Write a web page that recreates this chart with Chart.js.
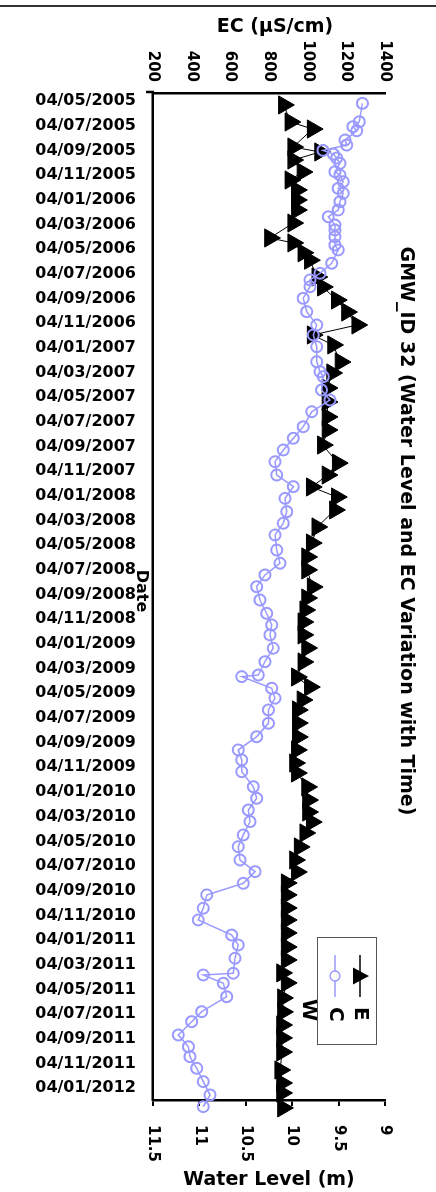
<!DOCTYPE html>
<html lang="en">
<head>
  <meta charset="UTF-8">
  <title>GMW_ID 32 (Water Level and EC Variation with Time)</title>
  <script src="https://cdn.jsdelivr.net/npm/chart.js"></script>
  <style>
    html, body {
      margin: 0;
      padding: 0;
      background: #fff;
      overflow: hidden;
    }
    body {
      width: 436px;
      height: 1192px;
      position: relative;
    }
    /* the chart is laid out landscape, then turned a quarter clockwise */
    #wrap {
      position: absolute;
      left: 0;
      top: 0;
      width: 1192px;
      height: 436px;
      transform-origin: 0 0;
      transform: translate(436px, 0) rotate(90deg);
    }
  </style>
</head>
<body>
  <div id="wrap"><canvas id="chart" width="1192" height="436"></canvas></div>

  <script>
    const chartTitle = "GMW_ID 32 (Water Level and EC Variation with Time)";

    // tick labels on the date axis, one every 2 months from 04/05/2005
    const dateTicks = [
      "04/05/2005", "04/07/2005", "04/09/2005", "04/11/2005",
      "04/01/2006", "04/03/2006", "04/05/2006", "04/07/2006", "04/09/2006", "04/11/2006",
      "04/01/2007", "04/03/2007", "04/05/2007", "04/07/2007", "04/09/2007", "04/11/2007",
      "04/01/2008", "04/03/2008", "04/05/2008", "04/07/2008", "04/09/2008", "04/11/2008",
      "04/01/2009", "04/03/2009", "04/05/2009", "04/07/2009", "04/09/2009", "04/11/2009",
      "04/01/2010", "04/03/2010", "04/05/2010", "04/07/2010", "04/09/2010", "04/11/2010",
      "04/01/2011", "04/03/2011", "04/05/2011", "04/07/2011", "04/09/2011", "04/11/2011",
      "04/01/2012"
    ];

    // EC readings: months after 04/05/2005 and value in µS/cm
    const ecMonth = [
      0.19, 1.68, 2.08, 2.41, 3.16, 3.57, 4.0, 4.3, 4.62, 5.05,
      5.73, 6.0, 6.54, 7.08, 7.48, 8.16, 8.83, 9.38, 10.05, 10.45,
      11.0, 11.67, 12.07, 13.15, 13.96, 14.5, 15.05, 15.99, 17.07, 18.15,
      18.96, 19.91, 21.13, 21.94, 22.34, 23.42, 24.23, 25.18, 26.4, 27.33,
      28.28, 29.23, 30.31, 31.25, 32.2, 33.28, 34.22, 35.17, 36.39, 37.46,
      38.41, 39.36, 40.44, 41.52, 42.46, 43.27, 44.35, 45.44, 46.52, 46.65,
      47.59, 48.4, 49.35, 50.43, 51.52, 52.59, 53.4, 54.35, 55.57, 56.51,
      57.46, 58.4, 59.48, 60.43, 61.51, 62.45, 63.4, 64.34, 65.42, 66.37,
      67.59, 68.4, 69.47, 70.69, 70.83, 71.5, 72.59, 73.8, 74.61, 75.69,
      76.64, 77.45, 78.39, 79.47, 80.55, 81.5
    ];
    const ecValue = [
      1283, 1267, 1234, 1254, 1193, 1202, 1079, 1133, 1150, 1167,
      1141, 1167, 1184, 1158, 1184, 1167, 1158, 1107, 1141, 1141,
      1141, 1141, 1158, 1124, 1064, 1012, 1012, 977, 995, 1047,
      1029, 1047, 1047, 1064, 1081, 1072, 1115, 1021, 977, 926,
      874, 831, 840, 926, 883, 892, 874, 831, 840, 857,
      779, 736, 753, 788, 814, 805, 822, 779, 745, 659,
      814, 831, 797, 797, 736, 641, 659, 659, 719, 736,
      693, 702, 667, 641, 650, 728, 667, 478, 460, 434,
      607, 641, 624, 615, 460, 564, 581, 452, 400, 331,
      383, 391, 426, 460, 495, 460
    ];

    // water level readings: months after 04/05/2005 and level in m
    const wlMonth = [
      0.32, 1.7, 2.27, 3.73, 4.13, 4.78, 5.75, 6.4, 7.21, 8.02,
      8.83, 9.89, 11.1, 11.5, 12.3, 12.9, 14.26, 15.07, 16.13, 17.1,
      18.15, 18.96, 19.77, 21.15, 22.04, 23.26, 24.39, 25.6, 26.66, 27.88,
      29.34, 30.31, 31.28, 32.09, 33.14, 34.52, 35.82, 36.95, 38.0, 39.38,
      40.28, 41.25, 42.22, 43.27, 44.33, 45.46, 46.68, 47.49, 48.54, 49.35,
      50.41, 51.54, 52.59, 53.65, 54.46, 55.59, 56.65, 57.62, 58.43, 59.32,
      60.45, 61.51, 62.48, 63.37, 64.34, 65.4, 66.37, 67.42, 68.56, 69.61,
      70.66, 71.47, 72.69, 73.82, 74.88, 75.93, 77.07, 78.53, 79.58, 80.39,
      81.6
    ];
    const wlValue = [
      10.09, 10.02, 9.78, 9.99, 9.70, 9.99, 9.89, 10.02, 9.95, 9.95,
      9.95, 9.99, 10.24, 9.99, 9.88, 9.81, 9.73, 9.67, 9.52, 9.41,
      9.30, 9.78, 9.56, 9.48, 9.57, 9.62, 9.62, 9.62, 9.62, 9.67,
      9.51, 9.62, 9.79, 9.52, 9.54, 9.73, 9.79, 9.84, 9.84, 9.78,
      9.84, 9.86, 9.88, 9.88, 9.84, 9.88, 9.95, 9.81, 9.89, 9.94,
      9.94, 9.94, 9.95, 9.97, 9.95, 9.84, 9.83, 9.83, 9.79, 9.86,
      9.92, 9.97, 9.95, 10.06, 10.06, 10.06, 10.06, 10.06, 10.06, 10.06,
      10.11, 10.06, 10.10, 10.10, 10.11, 10.11, 10.11, 10.13, 10.11, 10.11,
      10.10
    ];

    const FONT = '"DejaVu Sans"';
    const EC_COLOR = "#9999ff";

    Chart.defaults.font.family = FONT;
    Chart.defaults.color = "#000";

    function rotText(ctx, text, x, y) {
      ctx.save();
      ctx.translate(x, y);
      ctx.rotate(-Math.PI / 2);
      ctx.fillText(text, 0, 0);
      ctx.restore();
    }

    // titles, legend box and the odd bits Excel left on the picture
    const decor = {
      id: "decor",
      afterDraw(chart) {
        const ctx = chart.ctx;
        ctx.save();

        // frame line along the top of the picture
        ctx.strokeStyle = "#333";
        ctx.lineWidth = 2;
        ctx.beginPath();
        ctx.moveTo(6, 0);
        ctx.lineTo(6, 436);
        ctx.stroke();

        ctx.fillStyle = "#000";
        ctx.textAlign = "center";
        ctx.textBaseline = "middle";

        ctx.font = "bold 19px " + FONT;
        ctx.fillText(chartTitle, 531, 30);
        rotText(ctx, "EC (µS/cm)", 27, 161);
        rotText(ctx, "Water Level (m)", 1180, 167);

        ctx.font = "bold 16px " + FONT;
        ctx.fillText("Date", 591, 295);

        // stub of the EC axis line past the plot
        ctx.strokeStyle = "#000";
        ctx.lineWidth = 2.5;
        ctx.beginPath();
        ctx.moveTo(92, 282);
        ctx.lineTo(92, 290);
        ctx.stroke();

        // legend
        ctx.fillStyle = "#fff";
        ctx.fillRect(937, 59, 107, 59);
        ctx.strokeStyle = "#555";
        ctx.lineWidth = 1;
        ctx.strokeRect(937.5, 59.5, 107, 59);

        ctx.strokeStyle = "#000";
        ctx.lineWidth = 1.5;
        ctx.beginPath();
        ctx.moveTo(955, 76);
        ctx.lineTo(997, 76);
        ctx.stroke();
        ctx.fillStyle = "#000";
        ctx.beginPath();
        ctx.moveTo(976, 76 - 9);
        ctx.lineTo(976 + 8.5, 76 + 7);
        ctx.lineTo(976 - 8.5, 76 + 7);
        ctx.closePath();
        ctx.fill();

        ctx.strokeStyle = EC_COLOR;
        ctx.beginPath();
        ctx.moveTo(955, 101);
        ctx.lineTo(997, 101);
        ctx.stroke();
        ctx.fillStyle = "#fff";
        ctx.lineWidth = 1.5;
        ctx.beginPath();
        ctx.arc(976, 101, 5, 0, Math.PI * 2);
        ctx.fill();
        ctx.stroke();

        ctx.fillStyle = "#000";
        ctx.textAlign = "left";
        ctx.font = "bold 20px " + FONT;
        ctx.fillText("E", 1007, 76);
        ctx.fillText("C", 1007, 101);
        ctx.fillText("W", 999, 128);
        ctx.restore();
      }
    };

    new Chart(document.getElementById("chart"), {
      type: "line",
      data: {
        datasets: [
          {
            label: "EC",
            data: ecMonth.map((m, i) => ({ x: m, y: ecValue[i] })),
            yAxisID: "ec",
            borderColor: EC_COLOR,
            borderWidth: 1.5,
            pointStyle: "circle",
            pointRadius: 5.5,
            pointBorderColor: EC_COLOR,
            pointBorderWidth: 2,
            pointBackgroundColor: "rgba(0,0,0,0)",
            clip: false
          },
          {
            label: "Water Level",
            data: wlMonth.map((m, i) => ({ x: m, y: wlValue[i] })),
            yAxisID: "wl",
            borderColor: "#000",
            borderWidth: 1,
            pointStyle: "triangle",
            pointRadius: 10.5,
            pointBorderColor: "#000",
            pointBorderWidth: 1,
            pointBackgroundColor: "#000",
            clip: false
          }
        ]
      },
      options: {
        responsive: false,
        animation: false,
        events: [],
        layout: { padding: { top: 51, left: 0, right: 0, bottom: 0 } },
        plugins: {
          legend: { display: false },
          tooltip: { enabled: false },
          title: { display: false }
        },
        scales: {
          x: {
            type: "linear",
            position: "bottom",
            min: -0.65,
            max: 80.96,
            afterBuildTicks: (scale) => {
              scale.ticks = dateTicks.map((_, i) => ({ value: i * 2 }));
            },
            afterFit: (scale) => { scale.height = 153; },
            grid: { display: false, drawTicks: false },
            border: { display: true, color: "#000", width: 2.5 },
            ticks: {
              autoSkip: false,
              minRotation: 90,
              maxRotation: 90,
              padding: 17,
              color: "#000",
              font: { size: 16, weight: "bold" },
              callback: (value, index) => dateTicks[index]
            }
          },
          ec: {
            type: "linear",
            position: "left",
            min: 200,
            max: 1400,
            afterFit: (scale) => { scale.width = 93; },
            grid: { display: false, drawTicks: false },
            border: { display: true, color: "#000", width: 2.5 },
            ticks: {
              stepSize: 200,
              padding: 11,
              color: "#000",
              font: { size: 15, weight: "bold" },
              callback: (value) => String(value)
            }
          },
          wl: {
            type: "linear",
            position: "right",
            min: 9,
            max: 11.5,
            reverse: true,
            afterFit: (scale) => { scale.width = 92; },
            grid: {
              drawOnChartArea: false,
              drawTicks: true,
              tickLength: 6,
              color: "#000",
              lineWidth: 2
            },
            border: { display: true, color: "#000", width: 2.5 },
            ticks: {
              stepSize: 0.5,
              padding: 19,
              color: "#000",
              font: { size: 15, weight: "bold" },
              callback: (value) => String(value)
            }
          }
        }
      },
      plugins: [decor]
    });
  </script>
</body>
</html>
